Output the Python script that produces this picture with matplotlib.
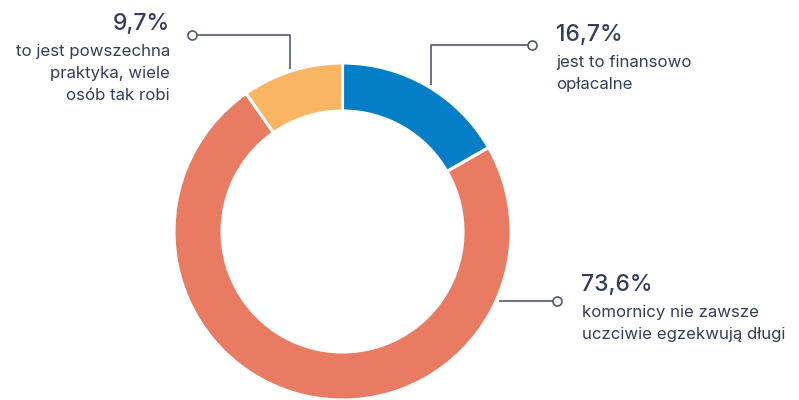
import matplotlib
matplotlib.use("Agg")
import matplotlib.pyplot as plt
import numpy as np

plt.rcParams['font.family'] = ['Inter', 'DejaVu Sans']

# Data
labels = ["jest to finansowo\nopłacalne",
          "komornicy nie zawsze\nuczciwie egzekwują długi",
          "to jest powszechna\npraktyka, wiele\nosób tak robi"]
values = [16.7, 73.6, 9.7]
pct_labels = ["16,7%", "73,6%", "9,7%"]
colors = ["#057ec8", "#e97b63", "#f9b563"]

W, H = 799, 400
fig = plt.figure(figsize=(W / 100, H / 100), dpi=100)
ax = fig.add_axes([0, 0, 1, 1])

def Y(y):
    return H - y

cx, cy, R, ring = 342.5, 231.5, 168.5, 48
ax.pie(values, colors=colors, startangle=90, counterclock=False,
       center=(cx, Y(cy)), radius=R,
       wedgeprops=dict(width=ring, edgecolor='white', linewidth=2.2))
ax.set_xlim(0, W)
ax.set_ylim(0, H)
ax.set_aspect('equal')
ax.axis('off')

line_c = "#4f596d"
txt_c = "#333f5a"

# leader lines (pixel layout)
leaders = [
    [(431, 85), (431, 45), (532, 45)],
    [(499, 300.7), (557, 300.7)],
    [(290, 69), (290, 35), (192, 35)],
]
for pts in leaders:
    xs = [p[0] for p in pts]
    ys = [Y(p[1]) for p in pts]
    ax.plot(xs, ys, color=line_c, lw=1.2, solid_capstyle='butt', zorder=3)
    ax.plot(xs[-1], ys[-1], 'o', ms=6.5, mfc='white', mec=line_c, mew=1.2, zorder=4)

# texts: (x, pct baseline, label first baseline, ha)
text_pos = [
    (556, 40.7, 66.7, 'left'),
    (581.5, 290.7, 316.7, 'left'),
    (170, 30.5, 56, 'right'),
]
for (x, yp, yl, ha), p, lab in zip(text_pos, pct_labels, labels):
    ax.text(x, Y(yp), p, ha=ha, va='baseline', fontsize=16.5, color=txt_c,
            fontweight='medium')
    for i, line in enumerate(lab.split("\n")):
        ax.text(x, Y(yl + i * 21.8), line, ha=ha, va='baseline', fontsize=12.1, color=txt_c)

fig.savefig("out.png", dpi=100)
